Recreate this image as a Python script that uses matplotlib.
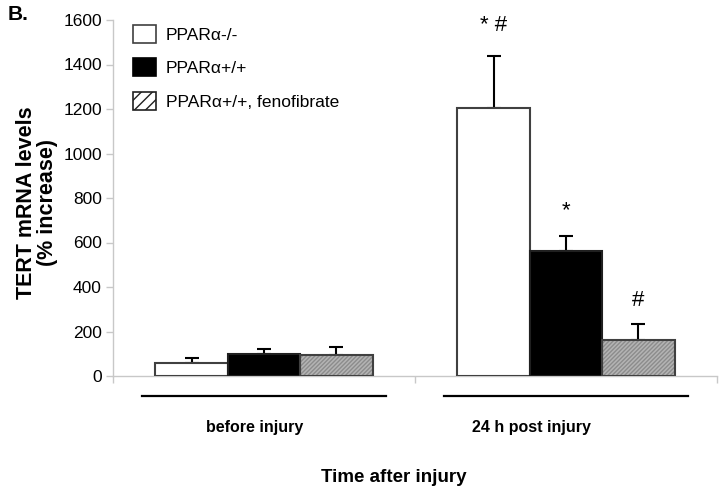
import matplotlib
matplotlib.use("Agg")
import matplotlib.pyplot as plt
from matplotlib.patches import Patch
import matplotlib.transforms as mtransforms
import numpy as np

plt.rcParams['font.family'] = ['Liberation Sans', 'DejaVu Sans']

categories = ["before injury", "24 h post injury"]
series_names = ["PPARα-/-", "PPARα+/+", "PPARα+/+, fenofibrate"]
means = {
    "PPARα-/-": [58, 1205],
    "PPARα+/+": [101, 562],
    "PPARα+/+, fenofibrate": [93, 160],
}
errors = {
    "PPARα-/-": [21, 235],
    "PPARα+/+": [19, 67],
    "PPARα+/+, fenofibrate": [36, 72],
}
annotations = {
    "PPARα-/-": ["", "* #"],
    "PPARα+/+": ["", "*"],
    "PPARα+/+, fenofibrate": ["", "#"],
}
yticks = [0, 200, 400, 600, 800, 1000, 1200, 1400, 1600]

fig = plt.figure(figsize=(7.24, 4.93), dpi=100)
ax = fig.add_axes([113/724, 1-376/493, (717-113)/724, (376-20)/493])

centers = np.arange(len(categories)) + 0.5
width = 0.24
offsets = [-width, 0, width]
ann_offsets = [22, 18, 17]

styles = [
    dict(facecolor="white", edgecolor="#404040"),
    dict(facecolor="black", edgecolor="#202020"),
]

for i, name in enumerate(series_names):
    x = centers + offsets[i]
    vals = means[name]
    if i == 2:
        ax.bar(x, vals, width, facecolor="#b4b4b4", edgecolor="#8c8c8c",
               hatch="////////", linewidth=0, zorder=2)
        ax.bar(x, vals, width, fill=False, edgecolor="#404040",
               linewidth=1.5, zorder=3)
    else:
        ax.bar(x, vals, width, linewidth=1.5, zorder=3, **styles[i])
    ax.errorbar(x, vals, yerr=[np.zeros(len(vals)), errors[name]], fmt="none",
                ecolor="black", elinewidth=1.5, capsize=5, capthick=1.5, zorder=1)
    for j, txt in enumerate(annotations[name]):
        if txt:
            ax.annotate(txt, (x[j], vals[j] + errors[name][j]),
                        xytext=(0, ann_offsets[i]), textcoords="offset points",
                        ha="center", va="center", fontsize=16)

ax.set_xlim(0, len(categories))
ax.set_ylim(0, 1600)
ax.set_yticks(yticks)
ax.set_yticklabels([str(t) for t in yticks], fontsize=12.5)
ax.set_xticks([0, 1, 2])
ax.set_xticklabels([])
for s in ["top", "right"]:
    ax.spines[s].set_visible(False)
for s in ["left", "bottom"]:
    ax.spines[s].set_color("#c8c8c8")
    ax.spines[s].set_linewidth(1)
ax.tick_params(axis="both", direction="out", color="#c8c8c8", length=5, width=1)
ax.tick_params(axis="y", pad=3)

# group underline and labels
trans = mtransforms.blended_transform_factory(ax.transData, ax.transAxes)
label_shift = [-0.03, -0.113]
for k, c in enumerate(centers):
    ax.plot([c - 0.405, c + 0.405], [-0.056, -0.056], transform=trans,
            color="black", linewidth=1.6, clip_on=False)
    ax.text(c + label_shift[k], -0.145, categories[k], transform=trans,
            ha="center", va="center", fontsize=11.5, fontweight="bold")

fig.text(394/724, 1-477/493, "Time after injury", ha="center", va="center",
         fontsize=13.5, fontweight="bold")
fig.text(37/724, 1-203/493, "TERT mRNA levels\n(% increase)", ha="center",
         va="center", rotation=90, fontsize=15.5, fontweight="bold",
         linespacing=1.05)
fig.text(8/724, 1-15/493, "B.", ha="left", va="center", fontsize=15,
         fontweight="bold")

handles = [
    Patch(facecolor="white", edgecolor="#404040", linewidth=1.2),
    Patch(facecolor="black", edgecolor="black", linewidth=1.2),
    Patch(facecolor="white", edgecolor="#202020", hatch="///", linewidth=1.2),
]
leg = fig.legend(handles, series_names, loc="upper left",
                 bbox_to_anchor=(133/724, 1-25/493), frameon=False,
                 borderpad=0, borderaxespad=0, fontsize=12.5,
                 handlelength=1.3, handleheight=1.2, handletextpad=0.6,
                 labelspacing=0.9)

fig.savefig("out.png", dpi=100)
